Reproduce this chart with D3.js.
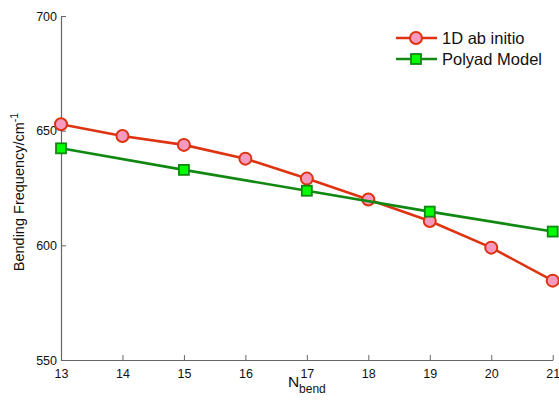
<!DOCTYPE html>
<html>
<head>
<meta charset="utf-8">
<script src="https://cdn.jsdelivr.net/npm/d3@7"></script>
<style>
  html, body { margin: 0; padding: 0; background: #fff; }
  svg { display: block; font-family: "Liberation Sans", Arial, sans-serif; }
</style>
</head>
<body>
<svg id="chart" width="559" height="405"></svg>
<script>
// Bending frequency vs. number of bending quanta
const abInitioN = [13, 14, 15, 16, 17, 18, 19, 20, 21];
const abInitioFreq = [652.8, 647.7, 643.8, 637.8, 629.1, 620.0, 610.6, 599.0, 584.6];
const polyadN = [13, 15, 17, 19, 21];
const polyadFreq = [642.3, 632.9, 623.8, 614.7, 606.0];
const xTicks = [13, 14, 15, 16, 17, 18, 19, 20, 21];
const yTicks = [550, 600, 650, 700];

const svg = d3.select("#chart");
const plotLeft = 61, plotRight = 552.7, plotTop = 16, plotBottom = 360;

const x = d3.scaleLinear().domain([13, 21]).range([plotLeft, plotRight]);
const y = d3.scaleLinear().domain([550, 700]).range([plotBottom, plotTop]);

const axisColor = "#666";

// Axes (ticks pointing inward)
const gx = svg.append("g").attr("transform", `translate(0,${plotBottom})`)
  .call(d3.axisBottom(x).tickValues(xTicks).tickSizeInner(-5).tickSizeOuter(0).tickPadding(9).tickFormat(d3.format("d")));
const gy = svg.append("g").attr("transform", `translate(${plotLeft},0)`)
  .call(d3.axisLeft(y).tickValues(yTicks).tickSizeInner(-5).tickSizeOuter(0).tickPadding(4).tickFormat(d3.format("d")));
[gx, gy].forEach(g => {
  g.select(".domain").attr("stroke", axisColor).attr("stroke-width", 1.2);
  g.selectAll(".tick line").attr("stroke", axisColor);
  g.selectAll(".tick text").attr("fill", "#111").style("font-size", "12.5px")
    .style("font-family", "'Liberation Sans', Arial, sans-serif");
});

// Axis titles
const xt = svg.append("text").attr("x", (plotLeft + plotRight) / 2).attr("y", 387)
  .attr("text-anchor", "middle").attr("fill", "#111").style("font-size", "15.5px");
xt.append("tspan").text("N");
xt.append("tspan").attr("dy", 6).style("font-size", "12px").text("bend");

const yt = svg.append("text")
  .attr("transform", `translate(24,192) rotate(-90)`)
  .attr("text-anchor", "middle").attr("fill", "#111").style("font-size", "14.5px");
yt.append("tspan").text("Bending Frequency/cm");
yt.append("tspan").attr("dy", -6).style("font-size", "10.5px").text("-1");

const line = d3.line().x(d => x(d[0])).y(d => y(d[1]));

const redStroke = "#dd3311", pinkFill = "#f79ac0";
const greenStroke = "#118811", limeFill = "#00ff00";

// 1D ab initio series
const redData = abInitioN.map((n, i) => [n, abInitioFreq[i]]);
svg.append("path").datum(redData).attr("d", line)
  .attr("fill", "none").attr("stroke", redStroke).attr("stroke-width", 2.6);
svg.selectAll("circle.ab").data(redData).join("circle").attr("class", "ab")
  .attr("cx", d => x(d[0])).attr("cy", d => y(d[1])).attr("r", 6)
  .attr("fill", pinkFill).attr("stroke", redStroke).attr("stroke-width", 2);

// Polyad model series
const greenData = polyadN.map((n, i) => [n, polyadFreq[i]]);
svg.append("path").datum(greenData).attr("d", line)
  .attr("fill", "none").attr("stroke", greenStroke).attr("stroke-width", 2.6);
svg.selectAll("rect.poly").data(greenData).join("rect").attr("class", "poly")
  .attr("x", d => x(d[0]) - 5).attr("y", d => y(d[1]) - 5)
  .attr("width", 10).attr("height", 10)
  .attr("fill", limeFill).attr("stroke", greenStroke).attr("stroke-width", 1.8);

// Legend
const legend = [
  { label: "1D ab initio", stroke: redStroke, fill: pinkFill, shape: "circle", yy: 38 },
  { label: "Polyad Model", stroke: greenStroke, fill: limeFill, shape: "square", yy: 59 }
];
legend.forEach(l => {
  const g = svg.append("g");
  g.append("line").attr("x1", 396).attr("x2", 437).attr("y1", l.yy).attr("y2", l.yy)
    .attr("stroke", l.stroke).attr("stroke-width", 2.6);
  if (l.shape === "circle") {
    g.append("circle").attr("cx", 416).attr("cy", l.yy).attr("r", 6)
      .attr("fill", l.fill).attr("stroke", l.stroke).attr("stroke-width", 2);
  } else {
    g.append("rect").attr("x", 411).attr("y", l.yy - 5).attr("width", 10).attr("height", 10)
      .attr("fill", l.fill).attr("stroke", l.stroke).attr("stroke-width", 1.8);
  }
  g.append("text").attr("x", 442).attr("y", l.yy + 5.5).attr("fill", "#111")
    .style("font-size", "16.5px").text(l.label);
});
</script>
</body>
</html>
